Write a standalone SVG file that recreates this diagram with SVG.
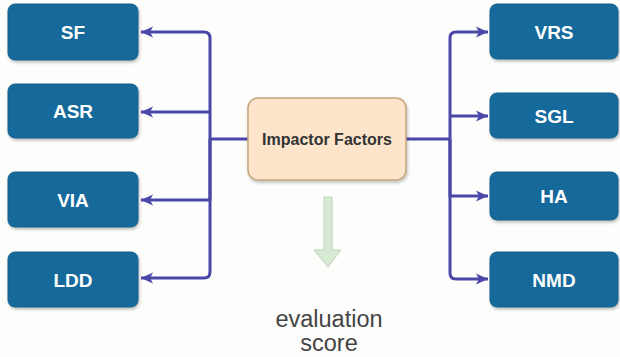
<svg xmlns="http://www.w3.org/2000/svg" width="620" height="357" viewBox="0 0 620 357">
<defs>
<style>
.box{fill:#196b9b;stroke:#145f8c;stroke-width:1;filter:url(#sh)}
.lbl{font-family:"Liberation Sans",Arial,sans-serif;font-weight:bold;font-size:19px;fill:#ffffff;text-anchor:middle}
.conn{fill:none;stroke:#4a47a8;stroke-width:3;stroke-linejoin:round}
</style>
<filter id="sh" x="-10%" y="-10%" width="120%" height="130%">
<feDropShadow dx="1" dy="2" stdDeviation="1.5" flood-color="#000" flood-opacity="0.25"/>
</filter>
<marker id="ah" markerUnits="userSpaceOnUse" markerWidth="14" markerHeight="14" refX="12" refY="7" orient="auto">
<path d="M0,1.5 L12,7 L0,12.5 L3,7 Z" fill="#4a47a8"/>
</marker>
</defs>
<rect width="620" height="357" fill="#fdfdfb"/>
<g id="connectors">
<path class="conn" d="M248,139 H210"/>
<path class="conn" d="M210,139 V38 Q210,32 204,32 H141" marker-end="url(#ah)"/>
<path class="conn" d="M210,112 H141" marker-end="url(#ah)"/>
<path class="conn" d="M210,139 V200 H141" marker-end="url(#ah)"/>
<path class="conn" d="M210,139 V272 Q210,278 204,278 H141" marker-end="url(#ah)"/>
<path class="conn" d="M406,139 H450"/>
<path class="conn" d="M450,139 V38 Q450,32 456,32 H488" marker-end="url(#ah)"/>
<path class="conn" d="M450,116 H488" marker-end="url(#ah)"/>
<path class="conn" d="M450,139 V196 H488" marker-end="url(#ah)"/>
<path class="conn" d="M450,139 V273 Q450,279 456,279 H488" marker-end="url(#ah)"/>
</g>
<g id="SF"><rect class="box" x="8" y="4" width="130" height="56" rx="7"/><text class="lbl" x="73" y="39">SF</text></g>
<g id="ASR"><rect class="box" x="8" y="84" width="130" height="54" rx="7"/><text class="lbl" x="73" y="118">ASR</text></g>
<g id="VIA"><rect class="box" x="8" y="172" width="130" height="55" rx="7"/><text class="lbl" x="73" y="206.5">VIA</text></g>
<g id="LDD"><rect class="box" x="8" y="252" width="130" height="55" rx="7"/><text class="lbl" x="73" y="286.5">LDD</text></g>
<g id="VRS"><rect class="box" x="490" y="4" width="128" height="55" rx="7"/><text class="lbl" x="554" y="38.5">VRS</text></g>
<g id="SGL"><rect class="box" x="490" y="93" width="128" height="45" rx="7"/><text class="lbl" x="554" y="122.5">SGL</text></g>
<g id="HA"><rect class="box" x="490" y="172" width="128" height="48" rx="7"/><text class="lbl" x="554" y="203">HA</text></g>
<g id="NMD"><rect class="box" x="490" y="252" width="128" height="55" rx="7"/><text class="lbl" x="554" y="286.5">NMD</text></g>
<g id="impactor"><rect x="248" y="98" width="158" height="82" rx="10" fill="#fde5cc" stroke="#c6a57c" stroke-width="1.5" filter="url(#sh)"/><text x="327" y="145" font-family="'Liberation Sans',Arial,sans-serif" font-weight="bold" font-size="16" fill="#333333" text-anchor="middle">Impactor Factors</text></g>
<g id="eval-arrow"><path d="M324,197 H332 V250 H341 L328,267 L314,250 H324 Z" fill="#d8ead4" stroke="#bcd6b6" stroke-width="1"/></g>
<g id="evaluation-score"><text font-family="'Liberation Sans',Arial,sans-serif" font-size="23.5" fill="#444444" text-anchor="middle"><tspan x="329" y="327">evaluation</tspan><tspan x="329" y="351">score</tspan></text></g>
</svg>
